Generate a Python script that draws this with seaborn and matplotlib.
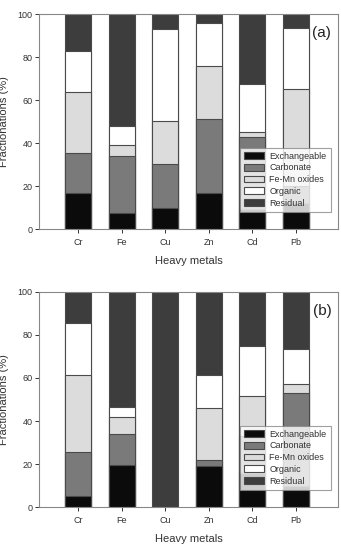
import numpy as np
import pandas as pd
import matplotlib
matplotlib.use("Agg")
import matplotlib.pyplot as plt
import seaborn as sns
from matplotlib.patches import Patch

metals = ["Cr", "Fe", "Cu", "Zn", "Cd", "Pb"]
fractions = ["Exchangeable", "Carbonate", "Fe-Mn oxides", "Organic", "Residual"]

# Panel (a)
exch_a = [16.7, 7.4, 9.7, 16.7, 9.5, 12.0]
carb_a = [18.7, 26.6, 20.5, 34.5, 33.5, 8.0]
femn_a = [28.2, 5.3, 20.2, 24.8, 2.0, 45.0]
org_a = [19.4, 8.7, 42.6, 19.7, 22.7, 28.3]
res_a = [17.0, 52.0, 7.0, 4.3, 32.3, 6.7]

# Panel (b)
exch_b = [5.1, 19.5, 0.0, 19.3, 16.0, 10.0]
carb_b = [20.4, 14.4, 0.0, 2.6, 17.0, 42.9]
femn_b = [35.7, 8.1, 0.0, 24.1, 18.8, 4.3]
org_b = [24.4, 4.7, 0.0, 15.2, 23.2, 16.1]
res_b = [14.4, 53.3, 100.0, 38.8, 25.0, 26.7]

colors = ["#0b0b0b", "#7a7a7a", "#dcdcdc", "#ffffff", "#3d3d3d"]
edge = "#4a4a4a"
font = ["Liberation Sans", "DejaVu Sans"]

sns.set_theme(style="white")
plt.rcParams["font.family"] = font

fig = plt.figure(figsize=(3.41, 5.44), dpi=100)
ax_a = fig.add_axes([39.3 / 341, 1 - 229.3 / 544, 298.4 / 341, 215.3 / 544])
ax_b = fig.add_axes([39.3 / 341, 1 - 507.3 / 544, 298.4 / 341, 215.6 / 544])


def draw(ax, series, tag):
    cum = np.cumsum(np.array(series), axis=0)
    for i in range(len(series) - 1, -1, -1):
        df = pd.DataFrame({"metal": metals, "value": cum[i]})
        sns.barplot(data=df, x="metal", y="value", order=metals, color=colors[i],
                    width=0.6, edgecolor=edge, linewidth=0.8, saturation=1,
                    ax=ax, errorbar=None)
    ax.set_ylim(0, 100)
    ax.set_xlim(-0.89, 5.96)
    ax.set_yticks([0, 20, 40, 60, 80, 100])
    ax.tick_params(axis="both", labelsize=6.5, colors="#333333", direction="out",
                   length=3, width=0.7)
    ax.tick_params(axis="y", pad=2)
    ax.tick_params(axis="x", pad=3.5)
    ax.tick_params(left=True, bottom=True, top=False, right=False)
    for s in ax.spines.values():
        s.set_visible(True)
        s.set_color("#888888")
        s.set_linewidth(0.8)
    ax.set_xlabel("Heavy metals", fontsize=8, color="#333333", labelpad=6)
    ax.set_ylabel("Fractionations (%)", fontsize=8, color="#333333")
    ax.yaxis.set_label_coords(-0.103, 0.5)
    ax.text(0.947, 0.91, tag, transform=ax.transAxes, fontsize=11,
            ha="center", va="center", color="#222222")
    handles = [Patch(facecolor=c, edgecolor=edge, linewidth=0.8, label=l)
               for c, l in zip(colors, fractions)]
    leg = ax.legend(handles=handles, loc="lower right",
                    bbox_to_anchor=(0.976, 0.082), borderaxespad=0,
                    fontsize=6.5, frameon=True, fancybox=False,
                    handlelength=2.2, handleheight=0.8, labelspacing=0.3,
                    handletextpad=0.6, borderpad=0.45)
    leg.get_frame().set_edgecolor("#888888")
    leg.get_frame().set_linewidth(0.8)
    for t in leg.get_texts():
        t.set_color("#333333")


draw(ax_a, [exch_a, carb_a, femn_a, org_a, res_a], "(a)")
draw(ax_b, [exch_b, carb_b, femn_b, org_b, res_b], "(b)")

fig.savefig("out.png", dpi=100)
